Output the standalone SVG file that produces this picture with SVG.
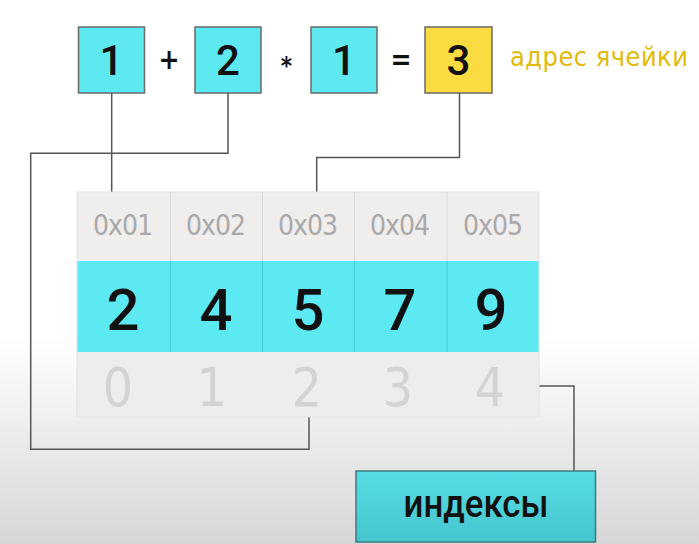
<svg xmlns="http://www.w3.org/2000/svg" width="699" height="544" viewBox="0 0 699 544">
<defs>
<linearGradient id="bg" x1="0" y1="0" x2="0" y2="1">
<stop offset="0" stop-color="#ffffff"/>
<stop offset="0.62" stop-color="#ffffff"/>
<stop offset="1" stop-color="#d7d7d7"/>
</linearGradient>
<linearGradient id="idx" x1="0" y1="0" x2="0" y2="1">
<stop offset="0" stop-color="#57dde5"/>
<stop offset="1" stop-color="#46c5ce"/>
</linearGradient>
<style>
.f{font-family:"DejaVu Sans Condensed","DejaVu Sans",sans-serif;}
.r{font-family:Roboto,"DejaVu Sans",sans-serif;font-weight:500;}
.box{fill:#5ee9f0;stroke:#6a6a6a;stroke-width:1.5;}
.ybox{fill:#fadc42;stroke:#6a6a6a;stroke-width:1.5;}
.num{font-size:42px;fill:#111;text-anchor:middle;}
.op{font-size:28px;font-weight:bold;fill:#111;text-anchor:middle;}
.hdr{fill:#f0eded;}
.val{fill:#5de9f1;}
.ix{fill:#efedec;}
.hdrt{font-size:28px;fill:#a9a9a9;text-anchor:middle;}
.valt{font-size:58px;fill:#111;text-anchor:middle;}
.ixt{font-size:53px;fill:#d3d3d3;text-anchor:middle;}
.conn{fill:none;stroke:#555;stroke-width:1.5;}
</style>
</defs>
<rect width="699" height="544" fill="url(#bg)"/>

<g id="expr">
<g id="n1"><rect class="box" x="78.5" y="27" width="66" height="66"/><text class="r num" x="111.5" y="75">1</text></g>
<text class="f op" x="169" y="69">+</text>
<g id="n2"><rect class="box" x="195" y="27" width="66" height="66"/><text class="r num" x="228" y="75">2</text></g>
<text class="f op" x="286.5" y="74" style="font-size:24px">*</text>
<g id="n3"><rect class="box" x="311" y="27" width="66" height="66"/><text class="r num" x="344" y="75">1</text></g>
<text class="f op" x="401" y="69">=</text>
<g id="n4"><rect class="ybox" x="425" y="27" width="67" height="66"/><text class="r num" x="458.5" y="75">3</text></g>
<text id="addrlabel" class="f" x="510" y="66" font-size="27" fill="#e2bb0a" textLength="178" lengthAdjust="spacing">адрес ячейки</text>
</g>

<g id="connectors">
<polyline class="conn" points="111.7,93 111.7,192"/>
<polyline class="conn" points="228,93 228,153.3 30.7,153.3 30.7,449.3 309,449.3 309,417"/>
<polyline class="conn" points="459.5,93 459.5,157.5 316.7,157.5 316.7,192"/>
<polyline class="conn" points="539,386 574,386 574,471"/>
</g>

<g id="table">
<rect class="hdr" x="77" y="192" width="462" height="69"/>
<rect class="val" x="77" y="261" width="462" height="91"/>
<rect class="ix" x="77" y="352" width="462" height="65"/>
<rect x="77" y="192" width="462" height="225" fill="none" stroke="#e2e2e2" stroke-width="1"/>
<g stroke="#dadada" stroke-width="1">
<line x1="170.5" y1="192" x2="170.5" y2="261"/><line x1="262.5" y1="192" x2="262.5" y2="261"/><line x1="354.5" y1="192" x2="354.5" y2="261"/><line x1="447" y1="192" x2="447" y2="261"/>
</g>
<g stroke="#43cbd3" stroke-width="1">
<line x1="170.5" y1="261" x2="170.5" y2="352"/><line x1="262.5" y1="261" x2="262.5" y2="352"/><line x1="354.5" y1="261" x2="354.5" y2="352"/><line x1="447" y1="261" x2="447" y2="352"/>
</g>
<g id="c1"><text class="f hdrt" x="123" y="235" textLength="60" lengthAdjust="spacing">0x01</text><text class="r valt" x="123" y="330">2</text><text class="f ixt" x="118" y="406">0</text></g>
<g id="c2"><text class="f hdrt" x="216" y="235" textLength="60" lengthAdjust="spacing">0x02</text><text class="r valt" x="216" y="330">4</text><text class="f ixt" x="212" y="406">1</text></g>
<g id="c3"><text class="f hdrt" x="308" y="235" textLength="60" lengthAdjust="spacing">0x03</text><text class="r valt" x="308" y="330">5</text><text class="f ixt" x="307" y="406">2</text></g>
<g id="c4"><text class="f hdrt" x="400" y="235" textLength="60" lengthAdjust="spacing">0x04</text><text class="r valt" x="400" y="330">7</text><text class="f ixt" x="398" y="406">3</text></g>
<g id="c5"><text class="f hdrt" x="493" y="235" textLength="60" lengthAdjust="spacing">0x05</text><text class="r valt" x="491" y="330">9</text><text class="f ixt" x="490" y="406">4</text></g>
</g>

<g id="indexes">
<rect x="356" y="471" width="239.5" height="71" fill="url(#idx)" stroke="#3d7a7e" stroke-width="1.5"/>
<text class="r" x="476" y="517" font-size="38" fill="#111" text-anchor="middle" textLength="145" lengthAdjust="spacingAndGlyphs">индексы</text>
</g>
</svg>
